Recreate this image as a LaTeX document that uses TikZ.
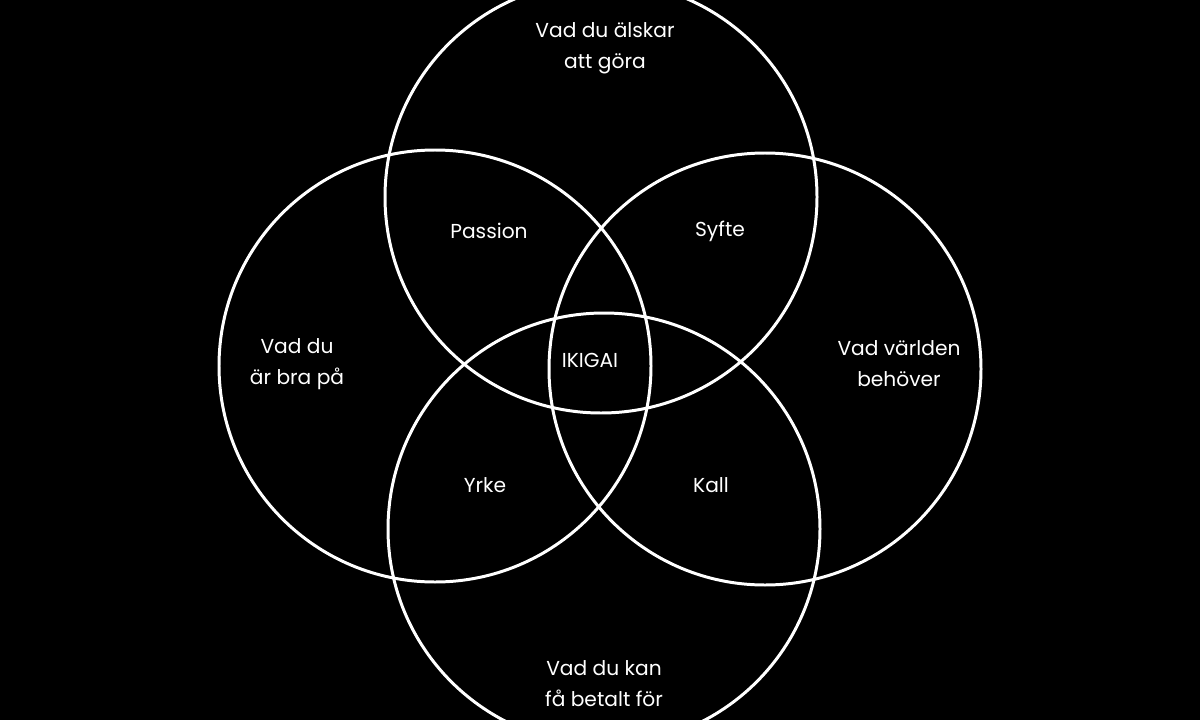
\documentclass[tikz,border=0pt]{standalone}
\usepackage{fontspec}
\setmainfont{Poppins}
\usepackage{tikz}
\usetikzlibrary{positioning}

\begin{document}
\begin{tikzpicture}[x=0.02cm, y=-0.02cm,
    ring/.style={draw=white, line width=1.7pt},
    lbl/.style={text=white, align=center, inner sep=0pt,
                font=\fontsize{11.5}{17.6}\selectfont}]
    \fill[black] (0,0) rectangle (1200,720);
    \useasboundingbox (0,0) rectangle (1200,720);

    % the four circles
    \draw[ring] (601,197) circle[radius=216];
    \draw[ring] (435,366) circle[radius=216];
    \draw[ring] (765,369) circle[radius=216];
    \draw[ring] (604,529) circle[radius=216];

    \node[lbl] (love)   at (605,48)  {Vad du älskar\\att göra};
    \node[lbl] (good)   at (297,364) {Vad du\\är bra på};
    \node[lbl] (world)  at (899,364) {Vad världen\\behöver};
    \node[lbl] (paid)   at (604,684) {Vad du kan\\få betalt för};

    \node[lbl] (passion) at (489,231) {Passion};
    \node[lbl] (syfte)   at (720,231) {Syfte};
    \node[lbl] (yrke)    at (485,485) {Yrke};
    \node[lbl] (kall)    at (711,485) {Kall};
    \node[lbl] (ikigai)  at (590,360) {IKIGAI};
\end{tikzpicture}
\end{document}
